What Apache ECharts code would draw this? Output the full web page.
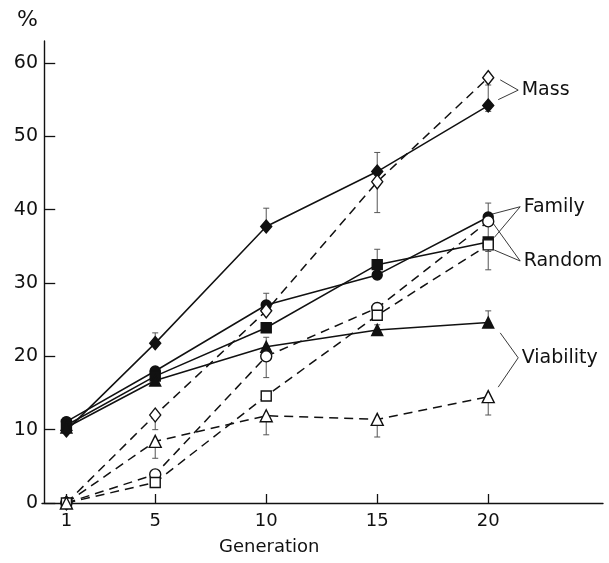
<!DOCTYPE html>
<html>
<head>
<meta charset="utf-8">
<script src="https://cdn.jsdelivr.net/npm/echarts@6/dist/echarts.min.js"></script>
<style>
  html, body { margin: 0; padding: 0; background: #fff; }
  #chart { width: 609px; height: 563px; }
</style>
</head>
<body>
<div id="chart"></div>
<script>
// generations on the x axis
const generations = [1, 5, 10, 15, 20];
const xTicks = [1, 5, 10, 15, 20];
const yTicks = [0, 10, 20, 30, 40, 50, 60];

// filled symbols = solid lines, open symbols = dashed lines
const massFilled = [9.9, 21.8, 37.7, 45.2, 54.2];
const massOpen = [0, 12.0, 26.2, 43.8, 58.0];
const familyFilled = [11.1, 18.0, 27.0, 31.1, 39.0];
const familyOpen = [0, 3.9, 20.0, 26.6, 38.4];
const randomFilled = [10.6, 17.3, 23.9, 32.5, 35.6];
const randomOpen = [0, 2.8, 14.6, 25.6, 35.2];
const viabFilled = [10.3, 16.7, 21.3, 23.6, 24.6];
const viabOpen = [0, 8.4, 11.9, 11.4, 14.5];

// error bars: [generation, low, high]
const errBars = [
  [5, 21.8, 23.2], [5, 10.0, 12.0], [5, 6.1, 8.4],
  [10, 37.7, 40.2], [10, 27.0, 28.6], [10, 21.3, 22.6], [10, 17.1, 20.0], [10, 9.3, 11.9],
  [15, 45.2, 47.8], [15, 39.6, 43.8], [15, 32.5, 34.6], [15, 22.9, 24.3], [15, 9.0, 11.4],
  [20, 53.4, 57.0], [20, 39.0, 40.9], [20, 31.8, 38.4], [20, 34.3, 35.6],
  [20, 24.6, 26.2], [20, 12.0, 14.5]
];

// leader lines to the labels (end, vertex, end) in data units
const massLead = [[20.54, 57.7], [21.35, 56.3], [20.45, 55.0]];
const familyLead = [[20.18, 39.4], [21.44, 40.4], [20.27, 36.2]];
const randomLead = [[20.23, 38.1], [21.44, 33.0], [20.27, 34.5]];
const viabLead = [[20.54, 23.2], [21.35, 19.8], [20.45, 15.8]];

const font = "DejaVu Sans";
const chart = echarts.init(document.getElementById("chart"));

function pts(vals) {
  return generations.map((g, i) => [g, vals[i]]);
}

function curve(vals, symbol, size, filled) {
  return {
    type: "line",
    data: pts(vals),
    symbol: symbol,
    symbolSize: size,
    showAllSymbol: true,
    z: filled ? 4 : 5,
    lineStyle: { color: "#111", width: 1.5, type: filled ? "solid" : [9, 6] },
    itemStyle: { color: filled ? "#111" : "#fff", borderColor: "#111", borderWidth: 1.4 },
    emphasis: { disabled: true },
    animation: false
  };
}

function leader(pointsArr, text) {
  return {
    type: "line",
    data: pointsArr.map((p, i) => ({
      value: p,
      label: {
        show: i === 1, position: "right", distance: 3, formatter: text,
        color: "#111", fontFamily: font, fontSize: 19
      }
    })),
    symbol: "circle",
    symbolSize: 1,
    showAllSymbol: true,
    itemStyle: { color: "rgba(0,0,0,0)" },
    z: 3,
    lineStyle: { color: "#222", width: 0.9 },
    emphasis: { disabled: true },
    animation: false
  };
}

const option = {
  backgroundColor: "#fff",
  grid: { left: 42, right: 6, top: 41, bottom: 60 },
  xAxis: {
    type: "value",
    min: -0.1,
    max: 25.17,
    axisLine: { lineStyle: { color: "#111", width: 1.4 } },
    axisTick: { inside: true, length: 9, customValues: xTicks, lineStyle: { color: "#111", width: 1.3 } },
    axisLabel: { customValues: xTicks, color: "#111", fontFamily: font, fontSize: 18, margin: 9 },
    splitLine: { show: false }
  },
  yAxis: {
    type: "value",
    min: 0,
    max: 63,
    axisLine: { show: true, lineStyle: { color: "#111", width: 1.4 } },
    axisTick: { show: true, inside: true, length: 11, customValues: yTicks, lineStyle: { color: "#111", width: 1.3 } },
    axisLabel: { customValues: yTicks, color: "#111", fontFamily: font, fontSize: 19, margin: 4 },
    splitLine: { show: false }
  },
  graphic: [
    { type: "text", left: 17, top: 9, style: { text: "%", font: "22px " + font, fill: "#111" } },
    { type: "text", left: 219, top: 538, style: { text: "Generation", font: "18px " + font, fill: "#111" } }
  ],
  series: [
    {
      type: "custom",
      data: errBars,
      z: 2,
      animation: false,
      renderItem: function (params, api) {
        const top = api.coord([api.value(0), api.value(2)]);
        const bot = api.coord([api.value(0), api.value(1)]);
        const s = { stroke: "#555", lineWidth: 1 };
        return {
          type: "group",
          children: [
            { type: "line", shape: { x1: top[0], y1: top[1], x2: bot[0], y2: bot[1] }, style: s },
            { type: "line", shape: { x1: top[0] - 3, y1: top[1], x2: top[0] + 3, y2: top[1] }, style: s },
            { type: "line", shape: { x1: bot[0] - 3, y1: bot[1], x2: bot[0] + 3, y2: bot[1] }, style: s }
          ]
        };
      }
    },
    curve(massFilled, "diamond", [11, 13], true),
    curve(massOpen, "diamond", [11, 14], false),
    curve(familyFilled, "circle", 10, true),
    curve(familyOpen, "circle", 11, false),
    curve(randomFilled, "rect", 10, true),
    curve(randomOpen, "rect", 10, false),
    curve(viabFilled, "triangle", 11, true),
    curve(viabOpen, "triangle", 12, false),
    leader(massLead, "Mass"),
    leader(familyLead, "Family"),
    leader(randomLead, "Random"),
    leader(viabLead, "Viability")
  ]
};

chart.setOption(option);
</script>
</body>
</html>
